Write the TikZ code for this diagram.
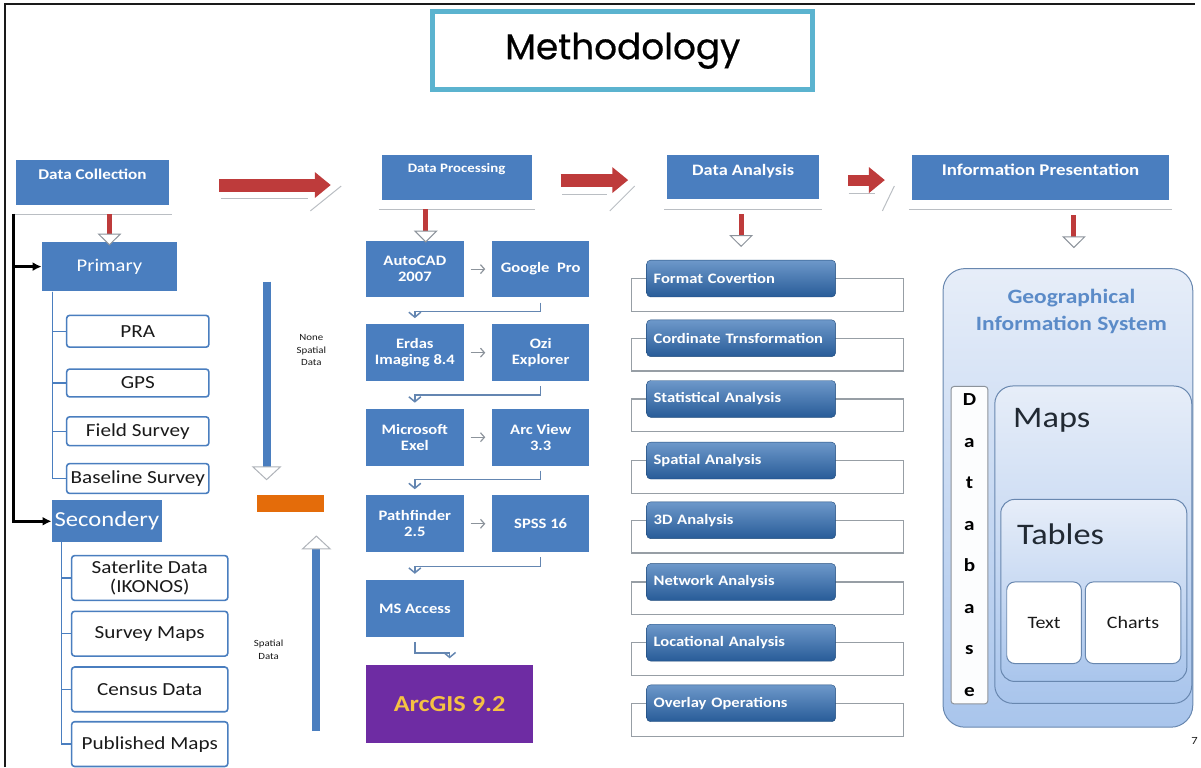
\documentclass[tikz,border=0pt]{standalone}
\usepackage{fontspec}
\setmainfont{Carlito}[FakeStretch=1.15]
\newfontfamily\titlefont{Poppins}[FakeBold=0.6]
\usetikzlibrary{arrows.meta}

\definecolor{mtink}{HTML}{1A1A1A}
\definecolor{mtblue}{HTML}{4A7EBF}
\definecolor{mtdeep}{HTML}{2F6CB3}
\definecolor{mtred}{HTML}{BE3B3B}
\definecolor{mtorange}{HTML}{E46C0A}
\definecolor{mtpurple}{HTML}{6E2CA3}
\definecolor{mtgold}{HTML}{F5C242}
\definecolor{mtcyan}{HTML}{5BB3CF}
\definecolor{mtgrey}{HTML}{8C939B}
\definecolor{mtsky}{HTML}{DCE6F6}
\definecolor{mtsea}{HTML}{A9C5EC}
\definecolor{mtgis}{HTML}{5B8BC8}

\begin{document}
\begin{tikzpicture}[
  x=1pt,y=-1pt,
  font=\fontsize{12}{14}\selectfont,
  frame/.style={draw=mtink,line width=1.2pt},
  hdr/.style={fill=mtblue,draw=white,line width=1pt,text=white,inner sep=0pt,
    font=\bfseries\fontsize{15}{17}\selectfont},
  refl/.style={draw=mtgrey!60,line width=1pt},
  flow/.style={mtred,line width=13pt,
    -{Triangle[width=25pt,length=16pt]}},
  redarr/.style={mtred,line width=5pt,
    -{Triangle[width=24pt,length=12pt,fill=white,color=mtgrey,line width=1pt]}},
  bluearr/.style={mtblue,line width=8pt,
    -{Triangle[width=30pt,length=14pt,fill=white,color=mtgrey!70,line width=1pt]}},
  trunk/.style={draw=black,line width=3pt,-{Latex[length=9pt,width=9pt]}},
  tree/.style={draw=mtblue,line width=1.5pt},
  grp/.style={fill=mtblue,text=white,inner sep=0pt},
  item/.style={draw=mtblue,line width=1.6pt,fill=white,rounded corners=3pt,
    inner sep=0pt,text=mtink,align=center,font=\fontsize{18.5}{19}\selectfont},
  tool/.style={fill=mtblue,text=white,inner sep=0pt,minimum width=98pt,
    minimum height=57pt,align=center,font=\bfseries\fontsize{14.5}{16}\selectfont},
  pnext/.style={draw=mtgrey,line width=1.2pt,shorten <=7pt,shorten >=7pt,
    -{Straight Barb[length=4pt,width=9pt]}},
  pback/.style={draw=mtblue!60!mtgrey,line width=1.5pt,shorten <=5pt,shorten >=6pt,
    -{Straight Barb[length=5pt,width=12pt]}},
  anbox/.style={rounded corners=4pt,top color=mtdeep!70!white,bottom color=mtdeep!85!black,
    draw=mtdeep!70!black,text=white,inner sep=0pt,minimum width=190pt,minimum height=37pt,
    text width=176pt,align=left,font=\bfseries\fontsize{14.5}{16}\selectfont},
  backbox/.style={draw=mtgrey!90,line width=1.3pt,fill=white},
  panel/.style={draw=mtblue!55!mtgrey,line width=1pt,top color=mtsky!70!white,
    bottom color=mtsea,inner sep=0pt},
  cell/.style={draw=mtblue!55!mtgrey,line width=1pt,fill=white,rounded corners=8pt,
    inner sep=0pt,text=mtink,font=\fontsize{17.5}{19}\selectfont},
  note/.style={text=mtink,align=center,font=\fontsize{9.5}{12.5}\selectfont}
]
  % page frame
  \draw[frame] (5,771) -- (5,4) -- (1201,4);
  \node[draw=mtcyan,line width=5pt,fill=white,minimum width=382pt,minimum height=78pt,
    font=\titlefont\fontsize{36}{40}\selectfont] (title) at (626,51) {Methodology};

  % stage headers
  \node[hdr,minimum width=154pt,minimum height=47pt,text depth=16pt] (dcol) at (93,183.5) {Data Collection};
  \node[hdr,minimum width=152pt,minimum height=47pt,text depth=19pt,
    font=\bfseries\fontsize{13}{15}\selectfont] (dproc) at (459,178.5) {Data Processing};
  \node[hdr,minimum width=154pt,minimum height=46pt,text depth=14pt,
    font=\bfseries\fontsize{16}{18}\selectfont] (dana) at (747,178) {Data Analysis};
  \node[hdr,minimum width=260pt,minimum height=47pt,text depth=15pt,
    font=\bfseries\fontsize{16.5}{18}\selectfont] (dinf) at (1046,178.5) {Information Presentation};
  \foreach \h/\d in {dcol/8,dproc/8,dana/9,dinf/8}
    \draw[refl] ([yshift=-\d pt,xshift=-2pt]\h.south west) -- ([yshift=-\d pt,xshift=2pt]\h.south east);

  % red flow arrows between stages
  \foreach \a/\b/\y/\c/\d in {222/310/200/312/343,565/610/196/613/638,853/880/195/887/899}{
    \draw[refl] (\a,\y) -- (\b,\y);
    \draw[refl] (\c,212) -- (\d,187);
  }
  \draw[flow,shorten <=50pt,shorten >=50pt] ([yshift=-2.5pt]dcol.east) -- ([yshift=-7.5pt]dproc.west);
  \draw[flow,shorten <=28pt,shorten >=38pt] ([yshift=-2.5pt]dproc.east) -- ([yshift=-3pt]dana.west);
  \draw[flow,line width=11pt,shorten <=28pt,shorten >=26pt] ([yshift=-3pt]dana.east) -- ([yshift=-2.5pt]dinf.west);

  % data collection
  \node[grp,minimum width=136pt,minimum height=50pt,font=\fontsize{18}{20}\selectfont] (prim) at (110,268) {Primary};
  \node[grp,minimum width=111pt,minimum height=42pt,font=\fontsize{21.5}{23}\selectfont] (sec) at (107.5,524) {Secondery};
  \foreach \n/\y/\h/\t in {pra/333/32/PRA,gps/385/28/GPS,fsv/433.5/29/Field Survey,bsv/481/30/Baseline Survey}
    \node[item,minimum width=143pt,minimum height=\h pt] (\n) at (138.5,\y) {\t};
  \foreach \n/\y/\t in {sat/581/{Saterlite Data\\(IKONOS)},svm/637/Survey Maps,cen/693/Census Data,pub/748/Published Maps}
    \node[item,minimum width=157pt,minimum height=45pt] (\n) at (150.5,\y) {\t};
  \foreach \n in {pra,gps,fsv,bsv}
    \draw[tree] ([xshift=11pt]prim.south west) |- (\n.west);
  \foreach \n in {sat,svm,cen,pub}
    \draw[tree] ([xshift=10pt]sec.south west) |- (\n.west);
  \coordinate (trk) at (14,215);
  \draw[trunk] (trk) |- (prim.west);
  \draw[trunk] (trk) |- (sec.west);
  \draw[redarr,shorten <=8pt,shorten >=-4pt] (dcol.south -| prim.north) -- (prim.north);

  % spatial / none spatial data
  \node[fill=mtorange,minimum width=68pt,minimum height=17pt,inner sep=0pt] (spbar) at (292,506.5) {};
  \coordinate (nstop) at (268,283);
  \coordinate (spbot) at (318,735);
  \draw[bluearr,shorten >=15pt] (nstop) -- (spbar.north -| nstop);
  \draw[bluearr,shorten >=23pt] (spbot) -- (spbar.south -| spbot);
  \node[note] (nsd) at (313,352) {None\\Spatial\\Data};
  \node[note] (spd) at (270,653) {Spatial\\Data};

  % data processing
  \foreach \a/\b/\y/\ta/\tb in {acad/gpro/270.5/{AutoCAD\\2007}/{Google~ Pro},
      erd/ozi/354.5/{Erdas\\Imaging 8.4}/{Ozi\\Explorer},
      mex/arcv/439.5/{Microsoft\\Exel}/{Arc View\\3.3},
      pfd/spss/526.5/{Pathfinder\\2.5}/{SPSS 16}}{
    \node[tool] (\a) at (417,\y) {\ta};
    \node[tool,minimum width=97pt] (\b) at (543.5,\y) {\tb};
    \draw[pnext] (\a) -- (\b);
  }
  \node[tool] (msa) at (417,611.5) {MS Access};
  \node[fill=mtpurple,text=mtgold,minimum width=168pt,minimum height=79pt,inner sep=0pt,
    font=\bfseries\fontsize{23}{25}\selectfont] (arc) at (452,707.5) {ArcGIS 9.2};
  \draw[pback] (gpro.south) -- ++(0,14) -| (erd.north);
  \draw[pback] (ozi.south) -- ++(0,14) -| (mex.north);
  \draw[pback] (arcv.south) -- ++(0,14) -| (pfd.north);
  \draw[pback] (spss.south) -- ++(0,14) -| (msa.north);
  \draw[pback] (msa.south) -- ++(0,16) -| (arc.north);
  \coordinate (dpin) at ([xshift=11pt,yshift=-2pt]acad.north);
  \draw[redarr,shorten <=8pt] (dproc.south -| dpin) -- (dpin);

  % data analysis
  \foreach \t/\lab [count=\i] in {262/Format Covertion,322/Cordinate Trnsformation,
      383/Statistical Analysis,445/Spatial Analysis,505/3D Analysis,
      567/Network Analysis,628/Locational Analysis,689/Overlay Operations}{
    \draw[backbox] (635,\t+18) rectangle (908,\t+51);
    \node[anbox] (an\i) at (745,\t+18) {\lab};
  }
  \draw[redarr,shorten <=14pt,shorten >=13pt] (dana.south -| an1.north) -- (an1.north);

  % information presentation
  \node[panel,rounded corners=22pt,minimum width=251pt,minimum height=461pt] (gis) at (1073.5,500.5) {};
  \node[text=mtgis,align=center,font=\bfseries\fontsize{20.5}{27}\selectfont] (gist) at (1077,313) {Geographical\\Information System};
  \node[draw=mtgrey,line width=1pt,fill=white!92!mtsky,rounded corners=3pt,minimum width=37pt,
    minimum height=319pt,inner sep=0pt,align=center,font=\bfseries\fontsize{18.5}{41.7}\selectfont] (dbase)
    at (974.5,548) {D\\a\\t\\a\\b\\a\\s\\e};
  \node[panel,rounded corners=18pt,minimum width=198pt,minimum height=319pt] (maps) at (1099,547.5) {};
  \node[anchor=west,text=mtink!85!mtblue,font=\fontsize{30}{32}\selectfont] (mapst) at (1015,423) {Maps};
  \node[panel,rounded corners=14pt,minimum width=187pt,minimum height=183pt] (tabs) at (1099.5,593.5) {};
  \node[anchor=west,text=mtink!85!mtblue,font=\fontsize{30}{32}\selectfont] (tabst) at (1019,537) {Tables};
  \node[cell,minimum width=75pt,minimum height=82pt] (txt) at (1049.5,626) {Text};
  \node[cell,minimum width=96pt,minimum height=82pt] (chr) at (1139,626) {Charts};
  \coordinate (gin) at ([xshift=6pt]gis.north);
  \draw[redarr,shorten <=14pt,shorten >=20pt] (dinf.south -| gin) -- (gin);
  \node[anchor=west,text=mtink,font=\fontsize{11}{12}\selectfont] (pgno) at (1194,745) {7};

  \useasboundingbox (0,0) rectangle (1201,771);
\end{tikzpicture}
\end{document}
